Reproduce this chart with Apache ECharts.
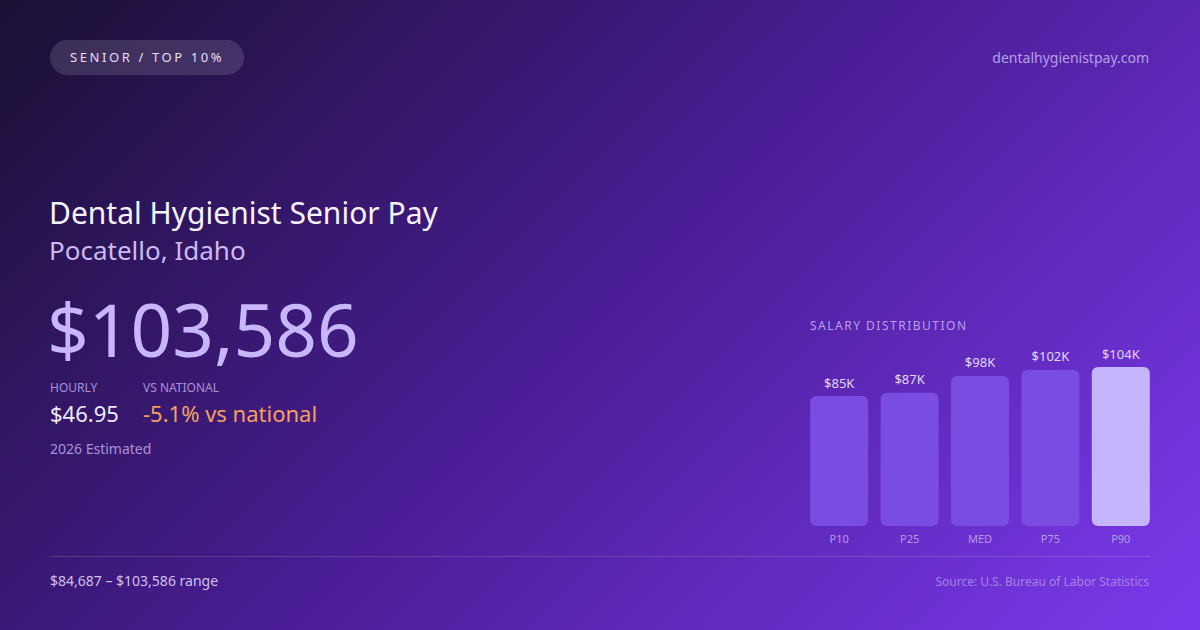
<!DOCTYPE html>
<html>
<head>
<meta charset="utf-8">
<script src="https://cdn.jsdelivr.net/npm/echarts@6/dist/echarts.min.js"></script>
<style>
	html, body { margin: 0; padding: 0; }
	body {
		width: 1200px;
		height: 630px;
		overflow: hidden;
		position: relative;
		font-family: 'Noto Sans', 'Open Sans', sans-serif;
		background: linear-gradient(135deg, #1a1033 0%, #4a1d96 50%, #7c3aed 100%);
	}
	.t { position: absolute; white-space: nowrap; line-height: 1; }
	#chart { position: absolute; left: 0; top: 0; width: 1200px; height: 630px; }
	.badge {
		position: absolute; left: 50px; top: 40px; height: 35px; width: 194px;
		border-radius: 18px; background: rgba(255, 255, 255, 0.13);
	}
	.rule { position: absolute; left: 50px; top: 556px; width: 1100px; height: 1px; background: rgba(255, 255, 255, 0.14); }
</style>
</head>
<body>
<div class="badge"></div>
<div class="t" style="left:70px;top:51px;font-size:13px;letter-spacing:2.6px;color:#e6def7;">SENIOR / TOP 10%</div>
<div class="t" style="right:51px;top:51px;font-size:14px;color:#b79fe6;">dentalhygienistpay.com</div>

<div class="t" style="left:49px;top:198px;font-size:30px;color:#f6f2ff;">Dental Hygienist Senior Pay</div>
<div class="t" style="left:49px;top:237px;font-size:26px;color:#cdbaf2;">Pocatello, Idaho</div>
<div class="t" style="left:47px;top:292px;font-size:73px;color:#c8b6fb;">$103,586</div>

<div class="t" style="left:50px;top:382px;font-size:12px;color:#a993d8;">HOURLY</div>
<div class="t" style="left:143px;top:382px;font-size:12px;color:#a993d8;">VS NATIONAL</div>
<div class="t" style="left:50px;top:402px;font-size:22px;color:#efe9fb;">$46.95</div>
<div class="t" style="left:143px;top:402px;font-size:22px;color:#f5a05e;">-5.1% vs national</div>
<div class="t" style="left:50px;top:442px;font-size:14px;color:#a993d8;">2026 Estimated</div>

<div class="t" style="left:810px;top:320px;font-size:12px;letter-spacing:1.5px;color:#b9a0ea;">SALARY DISTRIBUTION</div>

<div class="rule"></div>
<div class="t" style="left:50px;top:574px;font-size:14px;color:#cfc0f0;">$84,687 – $103,586 range</div>
<div class="t" style="right:51px;top:576px;font-size:12px;color:#a682e6;">Source: U.S. Bureau of Labor Statistics</div>

<div id="chart"></div>
<script>
	const categories = ['P10', 'P25', 'MED', 'P75', 'P90'];
	const salaries = [84687, 86800, 97800, 101700, 103586];
	const barColors = ['#7b4ce2', '#7b4ce2', '#7b4ce2', '#7b4ce2', '#c4b5fd'];

	const chart = echarts.init(document.querySelector('#chart'), null, { renderer: 'svg' });
	chart.setOption({
		animation: false,
		grid: {
			left: 804,
			width: 352,
			top: 367,
			bottom: 104
		},
		xAxis: {
			type: 'category',
			data: categories,
			axisLine: { show: false },
			axisTick: { show: false },
			axisLabel: {
				margin: 7,
				fontSize: 11,
				color: '#b39ce2',
				fontFamily: 'Noto Sans'
			}
		},
		yAxis: {
			type: 'value',
			min: 0,
			max: Math.max(...salaries),
			show: false,
			splitLine: { show: false }
		},
		series: [
			{
				type: 'bar',
				barWidth: 58,
				data: salaries.map((v, i) => ({
					value: v,
					itemStyle: { color: barColors[i], borderRadius: 6 }
				})),
				label: {
					show: true,
					position: 'top',
					distance: 7,
					fontSize: 13,
					color: '#e2d7fa',
					fontFamily: 'Noto Sans',
					formatter: p => `$${Math.round(p.value / 1000)}K`
				}
			}
		]
	});
</script>
</body>
</html>
